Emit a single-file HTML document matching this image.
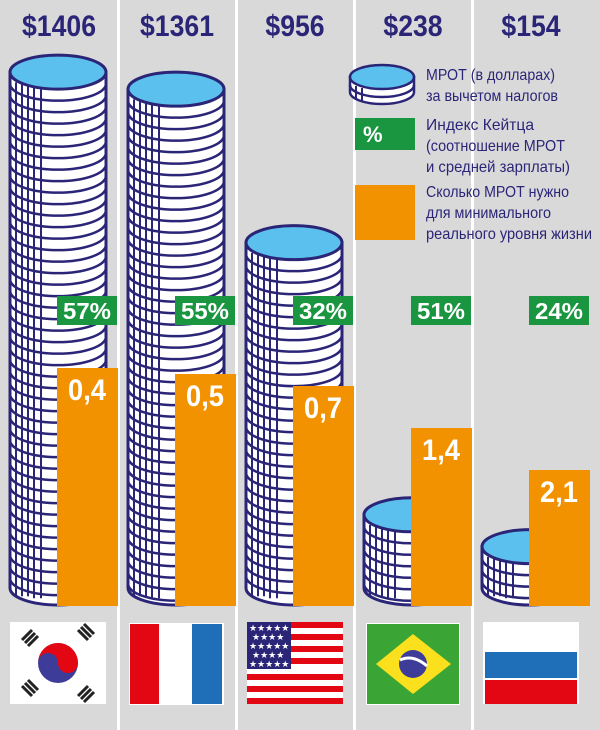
<!DOCTYPE html>
<html><head><meta charset="utf-8"><style>
html,body{margin:0;padding:0;background:#d9d9d9;}
svg{display:block;}
text{font-family:"Liberation Sans",sans-serif;}
</style></head><body>
<svg id="chart" width="600" height="730" viewBox="0 0 600 730" xmlns="http://www.w3.org/2000/svg">
<rect x="0" y="0" width="600" height="730" fill="#d9d9d9"/>
<g id="seps"></g>
<g id="stacks"></g>
<g id="bars"></g>
<g id="legend">
  <g>
    <path d="M350,77 L350,92 A32,12 0 0 0 414,92 L414,77 Z" fill="#fff" stroke="#2b2577" stroke-width="2.5"/>
    <path d="M350,85 A32,12 0 0 0 414,85" fill="none" stroke="#2b2577" stroke-width="2.5"/>
    <line x1="356" y1="86" x2="356" y2="99" stroke="#2b2577" stroke-width="2"/>
    <line x1="362" y1="88" x2="362" y2="101" stroke="#2b2577" stroke-width="2"/>
    <ellipse cx="382" cy="77" rx="32" ry="12" fill="#5bc0ee" stroke="#2b2577" stroke-width="2.5"/>
  </g>
  <g font-size="16" fill="#2b2577">
  <text x="426" y="80" textLength="129" lengthAdjust="spacingAndGlyphs">МРОТ (в долларах)</text>
  <text x="426" y="101" textLength="132" lengthAdjust="spacingAndGlyphs">за вычетом налогов</text>
  <text x="426" y="130" textLength="108" lengthAdjust="spacingAndGlyphs">Индекс Кейтца</text>
  <text x="426" y="151" textLength="139" lengthAdjust="spacingAndGlyphs">(соотношение МРОТ</text>
  <text x="426" y="172" textLength="144" lengthAdjust="spacingAndGlyphs">и средней зарплаты)</text>
  <text x="426" y="197" textLength="143" lengthAdjust="spacingAndGlyphs">Сколько МРОТ нужно</text>
  <text x="426" y="218" textLength="125" lengthAdjust="spacingAndGlyphs">для минимального</text>
  <text x="426" y="239" textLength="166" lengthAdjust="spacingAndGlyphs">реального уровня жизни</text>
  </g>
  <rect x="355" y="118" width="60" height="32" fill="#1a9640"/>
  <text x="363" y="142" font-size="22" font-weight="bold" fill="#fff">%</text>
  <rect x="355" y="185" width="60" height="55" fill="#f39200"/>
</g>
<g id="flags">
  <g>
    <rect x="10" y="622" width="96" height="82" fill="#fff"/>
    <circle cx="58" cy="663" r="20" fill="#3d3d99"/>
    <path d="M38,663 A20,20 0 0 1 78,663 A10,10 0 0 1 58,663 A10,10 0 0 0 38,663 Z" fill="#e30613"/>
    <g stroke="#222" stroke-width="3">
      <path d="M22,640 l10,-10 M25,643 l10,-10 M28,646 l10,-10"/>
      <path d="M78,630 l10,10 M81,627 l10,10 M84,624 l10,10"/>
      <path d="M22,686 l10,10 M25,683 l10,10 M28,680 l10,10"/>
      <path d="M78,696 l10,-10 M81,699 l10,-10 M84,702 l10,-10"/>
    </g>
  </g>
  <g>
    <rect x="129" y="623" width="95" height="82" fill="#fff"/>
    <rect x="130" y="624" width="29" height="80" fill="#e30613"/>
    <rect x="192" y="624" width="30" height="80" fill="#1f6fb8"/>
  </g>
  <g>
    <rect x="247" y="622" width="96" height="82" fill="#fff"/>
    <g fill="#e30613">
      <rect x="291" y="622" width="52" height="6"/><rect x="291" y="634" width="52" height="6"/>
      <rect x="291" y="646" width="52" height="6"/><rect x="291" y="658" width="52" height="6"/>
      <rect x="247" y="674" width="96" height="6"/><rect x="247" y="686" width="96" height="6"/>
      <rect x="247" y="698" width="96" height="6"/>
    </g>
    <rect x="247" y="622" width="44" height="47" fill="#2b2577"/>
    <g fill="#fff" font-size="9" style="font-family:'DejaVu Sans',sans-serif">
      <text x="249" y="631">★★★★★</text><text x="252" y="640">★★★★</text>
      <text x="249" y="649">★★★★★</text><text x="252" y="658">★★★★</text>
      <text x="249" y="667">★★★★★</text>
    </g>
  </g>
  <g>
    <rect x="366" y="623" width="94" height="82" fill="#fff"/>
    <rect x="367" y="624" width="92" height="80" fill="#3aa535"/>
    <polygon points="376,664 413,634 451,664 413,694" fill="#fbe01d"/>
    <circle cx="413" cy="664" r="14" fill="#3d3d99"/>
    <path d="M400,660 Q413,654 427,666" stroke="#fff" stroke-width="3" fill="none"/>
  </g>
  <g>
    <rect x="483" y="622" width="96" height="82" fill="#fff"/>
    <rect x="485" y="652" width="92" height="26" fill="#1f6fb8"/>
    <rect x="485" y="680" width="92" height="24" fill="#e30613"/>
  </g>
</g>
</svg>
<script>
const countries = ["korea","netherlands","usa","brazil","russia"];
const wages = [1406, 1361, 956, 238, 154];
const keitz = [57, 55, 32, 51, 24];
const needed = [0.4, 0.5, 0.7, 1.4, 2.1];
const neededLabels = ["0,4","0,5","0,7","1,4","2,1"];

const NS = "http://www.w3.org/2000/svg";
const colW = 118, baseY = 605;
const stackH = v => v * 0.379;
const barH = v => 262 - 60 * v;
function mk(tag, attrs, parent){ const e=document.createElementNS(NS,tag); for(const k in attrs) e.setAttribute(k,attrs[k]); parent.appendChild(e); return e; }

const seps = document.getElementById('seps');
for (let i=1;i<5;i++){
  const l = mk('rect',{x:i*colW-1,y:0,width:3,height:730,fill:'#fff'},seps);
  
  
}

const stacks = document.getElementById('stacks');
const bars = document.getElementById('bars');
const navy = "#2b2577";
wages.forEach((w,i)=>{
  const x0 = i*colW + 10, cx = x0 + 48, rx = 48, ry = 17;
  const topY = baseY - stackH(w);
  const g = mk('g',{},stacks);
  
  
  mk('path',{d:`M${x0},${topY} L${x0},${baseY-ry} A${rx},${ry} 0 0 0 ${x0+96},${baseY-ry} L${x0+96},${topY} Z`,fill:'#fff',stroke:navy,'stroke-width':3},g);
  const step = 11.5;
  for (let y = topY + step; y < baseY - ry - 2; y += step){
    mk('path',{d:`M${x0},${y} A${rx},${ry} 0 0 0 ${x0+96},${y}`,fill:'none',stroke:navy,'stroke-width':2.5},g);
  }
  [6,12,18,24,31].forEach(dx=>{
    mk('line',{x1:x0+dx,y1:topY+ry*0.6,x2:x0+dx,y2:baseY-ry+ry*0.6+(dx<20?-2:0),stroke:navy,'stroke-width':2},g);
  });
  mk('ellipse',{cx:cx,cy:topY,rx:rx,ry:ry,fill:'#5bc0ee',stroke:navy,'stroke-width':3},g);

  const label = '$'+w;
  const t = mk('text',{x:i*colW+59,y:36,'text-anchor':'middle','font-size':30,'font-weight':'bold',fill:navy,textLength:label.length*14.8,lengthAdjust:'spacingAndGlyphs'},stacks);
  
  
  t.textContent = label;
});

needed.forEach((v,i)=>{
  const bx = i*colW + 57, h = barH(v), top = baseY + 1 - h;
  const r = mk('rect',{x:bx,y:top,width:61,height:h,fill:'#f39200'},bars);
  
  
  const t = mk('text',{x:bx+30,y:top+32,'text-anchor':'middle','font-size':30,'font-weight':'bold',fill:'#fff',textLength:38,lengthAdjust:'spacingAndGlyphs'},bars);
  
  
  t.textContent = neededLabels[i];
});

keitz.forEach((k,i)=>{
  const bx = i*colW + 57;
  const r = mk('rect',{x:bx,y:296,width:60,height:29,fill:'#1a9640'},bars);
  
  
  const t = mk('text',{x:bx+30,y:319,'text-anchor':'middle','font-size':23,'font-weight':'bold',fill:'#fff',textLength:48,lengthAdjust:'spacingAndGlyphs'},bars);
  
  
  t.textContent = k+'%';
});
</script>
</body></html>
